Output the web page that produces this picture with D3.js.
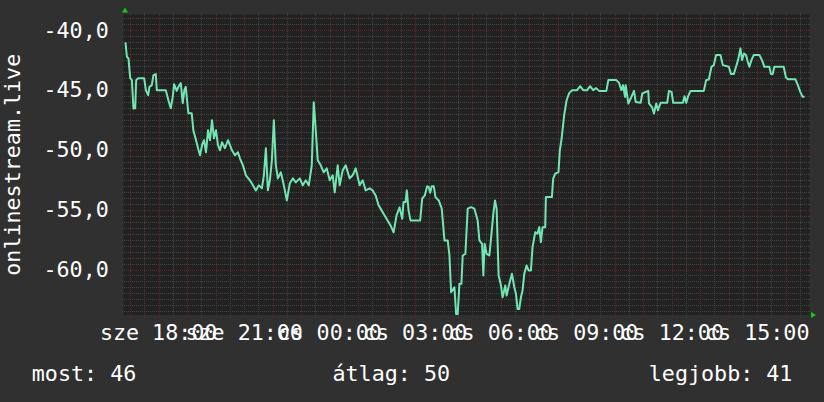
<!DOCTYPE html>
<html>
<head>
<meta charset="utf-8">
<script src="https://cdn.jsdelivr.net/npm/d3@7"></script>
<style>
body{margin:0;background:#303030;}
</style>
</head>
<body>
<div id="chart-area"></div>
<script>
// minutes after the start of the window (sze 16:46), signal in dB
var minutes = [
4.2,7.1,10.5,14.1,17.6,21.0,24.6,26.7,30.9,43.5,
47.0,51.9,54.6,59.6,63.0,68.0,70.1,89.0,94.5,99.5,
103.7,106.5,112.1,115.5,120.5,124.7,128.1,131.0,136.5,143.6,
147.0,152.7,156.9,161.1,165.3,169.5,173.7,177.9,182.1,186.3,
190.5,194.7,198.9,203.1,207.3,213.6,219.9,224.1,228.3,234.6,
240.9,245.1,251.4,257.7,266.1,272.4,278.7,285.0,291.3,295.5,
299.7,303.9,308.1,312.3,316.5,320.7,324.9,331.2,337.5,343.8,
350.1,356.4,362.7,371.1,377.4,383.7,390.0,396.3,400.5,404.7,
408.9,415.2,421.5,427.8,434.1,440.4,444.6,450.9,455.1,461.4,
467.7,476.1,482.4,488.7,497.1,503.4,509.7,518.1,524.4,530.7,
537.0,543.3,549.6,555.9,562.2,568.5,574.8,581.1,
586.7,589.5,593.7,596.4,600.0,604.2,624.5,628.7,634.2,639.2,642.6,645.5,
648.9,653.1,656.7,663.6,669.9,675.6,682.5,686.1,689.6,696.6,
700.1,703.5,707.1,711.3,714.0,719.7,724.5,731.6,738.6,745.5,
749.1,754.7,757.5,760.2,764.4,770.1,774.9,778.5,782.0,785.4,
789.6,794.6,798.0,803.7,806.4,812.1,817.7,822.6,826.1,829.5,
833.1,836.6,840.0,843.6,848.4,852.6,857.6,861.0,866.7,871.5,
875.1,878.6,882.0,887.7,889.1,901.7,904.5,908.7,915.6,918.5,
922.3,927.6,932.8,938.1,944.4,954.9,961.2,967.5,975.9,982.2,
988.5,994.8,1001.1,1016.4,1020.6,1037.4,1043.1,1047.9,1051.5,1055.7,
1057.1,1062.6,1067.6,1074.6,1078.1,1088.6,1092.0,1104.6,1106.1,1113.0,
1116.6,1121.4,1125.0,1130.6,1144.5,1148.1,1153.7,1157.1,1177.5,1181.0,
1184.4,1188.6,1193.6,1221.6,1226.4,1232.1,1237.7,1242.6,1247.4,1256.6,
1261.5,1274.1,1278.9,1284.6,1289.4,1293.6,1298.6,1302.0,1306.2,1310.4,
1314.0,1317.5,1321.7,1326.6,1338.5,1344.0,1349.0,1359.5,1362.9,1366.5,
1370.0,1389.6,1394.4,1398.6,1414.1,1419.6,1424.6,1429.5,1433.7];

var signal = [
-41.03,-42.23,-42.37,-44.02,-44.18,-46.55,-46.53,-44.18,-44.02,-44.02,
-45.02,-45.44,-44.74,-44.60,-43.77,-43.68,-45.02,-45.02,-45.86,-46.53,
-45.58,-44.52,-45.08,-44.74,-44.43,-46.11,-45.02,-44.74,-46.95,-46.95,
-48.37,-49.20,-49.87,-50.46,-49.62,-49.20,-50.21,-48.37,-49.20,-47.53,
-49.04,-48.37,-49.62,-50.04,-49.37,-49.87,-49.20,-49.62,-50.04,-50.46,
-50.21,-50.71,-51.30,-52.13,-52.55,-52.97,-53.39,-52.97,-53.22,-52.13,
-49.87,-53.39,-52.55,-50.88,-47.53,-51.30,-52.39,-51.88,-52.97,-54.23,
-52.80,-52.39,-52.72,-52.39,-52.97,-52.55,-52.97,-51.30,-46.03,-48.37,
-50.88,-51.30,-51.88,-51.55,-52.55,-52.13,-53.56,-51.30,-52.97,-51.72,
-51.30,-52.39,-52.13,-51.55,-52.97,-52.55,-53.39,-53.22,-53.39,-53.81,
-54.64,-55.06,-55.48,-55.90,-56.32,-56.90,-55.48,-54.81,
-55.76,-54.37,-54.37,-53.39,-55.06,-55.90,-55.90,-54.08,-53.81,-53.05,-53.11,-53.58,
-53.05,-53.05,-53.95,-54.23,-54.92,-57.57,-57.57,-58.83,-61.90,-61.48,
-63.71,-63.71,-61.20,-61.20,-58.83,-58.69,-54.92,-54.79,-54.92,-55.90,
-57.57,-57.85,-60.50,-57.85,-58.69,-58.83,-56.88,-55.34,-54.23,-54.92,
-60.50,-61.34,-62.32,-61.34,-62.18,-61.20,-60.36,-61.48,-62.03,-63.29,
-63.29,-62.32,-61.76,-60.36,-59.66,-60.08,-60.08,-58.13,-56.88,-57.01,
-56.46,-57.72,-56.46,-56.46,-53.95,-53.95,-52.41,-51.99,-51.86,-50.04,
-49.04,-47.11,-45.86,-45.27,-45.02,-45.02,-44.69,-45.02,-45.02,-44.69,
-45.02,-44.85,-45.08,-45.08,-44.18,-44.18,-44.41,-45.02,-44.60,-45.58,
-44.60,-46.13,-45.72,-45.08,-46.00,-46.08,-45.30,-45.08,-46.13,-46.47,
-46.97,-46.13,-46.69,-46.08,-46.08,-45.08,-45.16,-46.08,-46.08,-45.52,
-46.08,-45.52,-45.08,-45.08,-44.18,-44.13,-43.07,-42.93,-42.09,-42.09,
-42.93,-43.07,-43.68,-43.68,-43.07,-42.51,-41.53,-42.51,-41.95,-42.09,
-42.65,-43.07,-42.51,-42.09,-42.09,-42.51,-43.07,-43.07,-43.68,-43.68,
-43.07,-43.07,-43.96,-44.10,-44.10,-44.60,-45.16,-45.58,-45.58];

var yTicks = [-40, -45, -50, -55, -60];
var dayNames = ["v", "h", "k", "sze", "cs", "p", "szo"];
var legendLabels = ["most: 46", "átlag: 50", "legjobb: 41"];
var yTitle = "onlinestream.live";

var width = 824, height = 402;
var plot = {left: 123.5, right: 809.5, top: 14.5, bottom: 315};
var font = "'DejaVu Sans Mono', monospace";
var fontSize = "21.7px";

var start = new Date(2024, 0, 3, 16, 46);
var end = new Date(2024, 0, 4, 16, 50);

var x = d3.scaleTime().domain([start, end]).range([plot.left, plot.right]);
var y = d3.scaleLinear().domain([-63.8, -38.7]).range([plot.bottom, plot.top]);

var data = minutes.map(function(m, i) {
    return {t: new Date(start.getTime() + m * 60000), v: signal[i]};
});

var svg = d3.select("#chart-area").append("svg")
    .attr("width", width)
    .attr("height", height)
    .style("display", "block");

svg.append("rect")
    .attr("width", width).attr("height", height)
    .attr("fill", "#303030");

svg.append("rect")
    .attr("x", plot.left).attr("y", plot.top)
    .attr("width", plot.right - plot.left)
    .attr("height", plot.bottom - plot.top)
    .attr("fill", "#222222");

var grid = svg.append("g").attr("shape-rendering", "crispEdges");

// grid: minor every half hour / half unit, major (red) every hour / 5 units
var halfHours = d3.timeMinute.every(30).range(start, end);
grid.selectAll(".vgrid").data(halfHours).enter().append("line")
    .attr("x1", function(d) { return Math.round(x(d)) + 0.5; })
    .attr("x2", function(d) { return Math.round(x(d)) + 0.5; })
    .attr("y1", plot.top - 2).attr("y2", plot.bottom + 3)
    .attr("stroke", function(d) { return d.getMinutes() == 0 ? "#5c2828" : "#424242"; })
    .attr("stroke-dasharray", "1,1");

var halfSteps = d3.range(Math.ceil(y.domain()[0] * 2) / 2, y.domain()[1], 0.5);
grid.selectAll(".hgrid").data(halfSteps).enter().append("line")
    .attr("x1", plot.left - 2).attr("x2", plot.right + 2)
    .attr("y1", function(d) { return Math.round(y(d)) + 0.5; })
    .attr("y2", function(d) { return Math.round(y(d)) + 0.5; })
    .attr("stroke", function(d) { return d % 5 == 0 ? "#5c2828" : "#424242"; })
    .attr("stroke-dasharray", "1,1");

// the signal line
var line = d3.line()
    .x(function(d) { return x(d.t); })
    .y(function(d) { return y(d.v); });

svg.append("path")
    .datum(data)
    .attr("d", line)
    .attr("fill", "none")
    .attr("stroke", "#72e6b2")
    .attr("stroke-width", 2)
    .attr("stroke-linejoin", "round");

// y labels
svg.selectAll(".ylab").data(yTicks).enter().append("text")
    .attr("x", 108.8)
    .attr("y", function(d) { return y(d) + 7.5; })
    .attr("text-anchor", "end")
    .attr("fill", "#ffffff")
    .style("font-family", font)
    .style("font-size", fontSize)
    .text(function(d) { return d3.format(".1f")(d).replace("−", "-").replace(".", ","); });

// x labels, every 3 hours
var labelTimes = d3.timeHour.every(3).range(start, end);
svg.selectAll(".xlab").data(labelTimes).enter().append("text")
    .attr("x", function(d) { return x(d); })
    .attr("y", 339.5)
    .attr("text-anchor", "middle")
    .attr("fill", "#ffffff")
    .style("font-family", font)
    .style("font-size", fontSize)
    .text(function(d) { return dayNames[d.getDay()] + " " + d3.timeFormat("%H:%M")(d); });

// y title
svg.append("text")
    .attr("transform", "translate(19.5," + ((plot.top + plot.bottom) / 2) + ") rotate(-90)")
    .attr("text-anchor", "middle")
    .attr("fill", "#ffffff")
    .style("font-family", font)
    .style("font-size", fontSize)
    .text(yTitle);

// arrows
svg.append("path")
    .attr("d", "M" + (plot.left + 1.5 - 3) + "," + (plot.top - 2) + "l3,-5l3,5z")
    .attr("fill", "#11cc11");
svg.append("path")
    .attr("d", "M" + (plot.right + 1.5) + "," + (plot.bottom - 3) + "l5,3l-5,3z")
    .attr("fill", "#11cc11");

// legend
var legendX = [31.8, 332.5, 648.8];
svg.selectAll(".leg").data(legendLabels).enter().append("text")
    .attr("x", function(d, i) { return legendX[i]; })
    .attr("y", 381)
    .attr("fill", "#ffffff")
    .style("font-family", font)
    .style("font-size", fontSize)
    .text(function(d) { return d; });
</script>
</body>
</html>
